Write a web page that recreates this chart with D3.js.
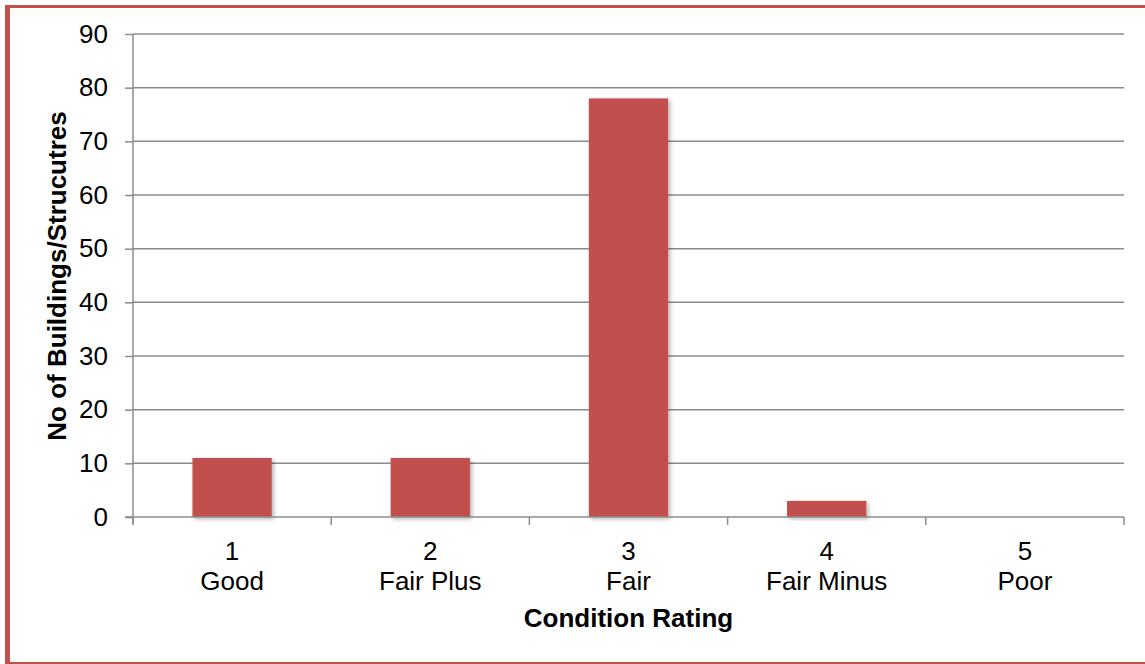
<!DOCTYPE html>
<html>
<head>
<meta charset="utf-8">
<script src="https://cdn.jsdelivr.net/npm/d3@7"></script>
<style>
  html, body { margin: 0; padding: 0; background: #fff; }
  svg { display: block; }
  text { font-family: "Liberation Sans", Arial, sans-serif; fill: #000; }
</style>
</head>
<body>
<svg id="chart" width="1145" height="664"></svg>
<script>
const ratings = ["1", "2", "3", "4", "5"];
const ratingNames = ["Good", "Fair Plus", "Fair", "Fair Minus", "Poor"];
const counts = [11, 11, 78, 3, 0];
const yTicks = [0, 10, 20, 30, 40, 50, 60, 70, 80, 90];
const xTitle = "Condition Rating";
const yTitle = "No of Buildings/Strucutres";

const svg = d3.select("#chart");
const W = 1145, H = 664;
const m = { left: 133, right: 1124, top: 34, bottom: 517 };
const barColor = "#C0504D";
const gridColor = "#8c8c8c";
const fs = 26;

// border
svg.append("rect").attr("x", 0).attr("y", 0).attr("width", W).attr("height", H).attr("fill", "#fff");
svg.append("rect").attr("x", 5).attr("y", 5).attr("width", W).attr("height", 3).attr("fill", barColor);
svg.append("rect").attr("x", 5).attr("y", 5).attr("width", 5).attr("height", H - 5).attr("fill", barColor);
svg.append("rect").attr("x", 5).attr("y", 662).attr("width", W).attr("height", 2).attr("fill", barColor);

const defs = svg.append("defs");
const f = defs.append("filter").attr("id", "shadow").attr("x", "-10%").attr("y", "-10%").attr("width", "130%").attr("height", "130%");
f.append("feDropShadow").attr("dx", 2).attr("dy", 2).attr("stdDeviation", 2).attr("flood-color", "#000").attr("flood-opacity", 0.3);

const x = d3.scaleBand().domain(ratings).range([m.left, m.right]).paddingInner(0.6).paddingOuter(0.3);
const xOuter = d3.scaleBand().domain(ratings).range([m.left, m.right]);
const y = d3.scaleLinear().domain([0, 90]).range([m.bottom, m.top]);

// gridlines
svg.append("g").selectAll("line").data(yTicks.filter(d => d > 0)).join("line")
  .attr("x1", m.left).attr("x2", m.right)
  .attr("y1", d => y(d)).attr("y2", d => y(d))
  .attr("stroke", gridColor).attr("stroke-width", 1.5);

// y axis
const yAxis = svg.append("g").attr("transform", `translate(${m.left},0)`)
  .call(d3.axisLeft(y).tickValues(yTicks).tickSize(8).tickPadding(17).tickSizeOuter(0));
yAxis.select(".domain").attr("stroke", gridColor).attr("stroke-width", 1.5)
  .attr("d", `M0,${m.top}V${m.bottom + 7}`);
yAxis.selectAll(".tick line").attr("stroke", gridColor).attr("stroke-width", 1.5);
yAxis.selectAll(".tick text").attr("font-size", fs).attr("font-family", "Liberation Sans, Arial, sans-serif").attr("fill", "#000");

// bars
svg.append("g").selectAll("rect").data(counts).join("rect")
  .attr("x", (d, i) => x(ratings[i]))
  .attr("width", x.bandwidth())
  .attr("y", d => y(d))
  .attr("height", d => y(0) - y(d))
  .attr("fill", barColor)
  .attr("filter", "url(#shadow)")
  .style("display", d => d > 0 ? null : "none");

// x axis
const xAxisG = svg.append("g").attr("transform", `translate(0,${m.bottom})`);
xAxisG.append("line").attr("x1", m.left - 8).attr("x2", m.right).attr("y1", 0).attr("y2", 0)
  .attr("stroke", gridColor).attr("stroke-width", 1.5);
const bounds = ratings.map(r => xOuter(r)).concat([m.right]);
xAxisG.selectAll("line.tk").data(bounds).join("line").attr("class", "tk")
  .attr("x1", d => d).attr("x2", d => d).attr("y1", 0).attr("y2", 8)
  .attr("stroke", gridColor).attr("stroke-width", 1.5);

const labels = svg.append("g").selectAll("text").data(ratings).join("text")
  .attr("text-anchor", "middle").attr("font-size", fs);
labels.append("tspan").attr("x", d => xOuter(d) + xOuter.bandwidth() / 2).attr("y", 560).text(d => d);
labels.append("tspan").attr("x", d => xOuter(d) + xOuter.bandwidth() / 2).attr("y", 590).text((d, i) => ratingNames[i]);

// titles
svg.append("text").attr("x", (m.left + m.right) / 2).attr("y", 627).attr("text-anchor", "middle")
  .attr("font-size", fs).attr("font-weight", "bold").text(xTitle);
svg.append("text").attr("transform", `translate(66,276) rotate(-90)`)
  .attr("text-anchor", "middle").attr("font-size", fs).attr("font-weight", "bold").text(yTitle);
</script>
</body>
</html>
